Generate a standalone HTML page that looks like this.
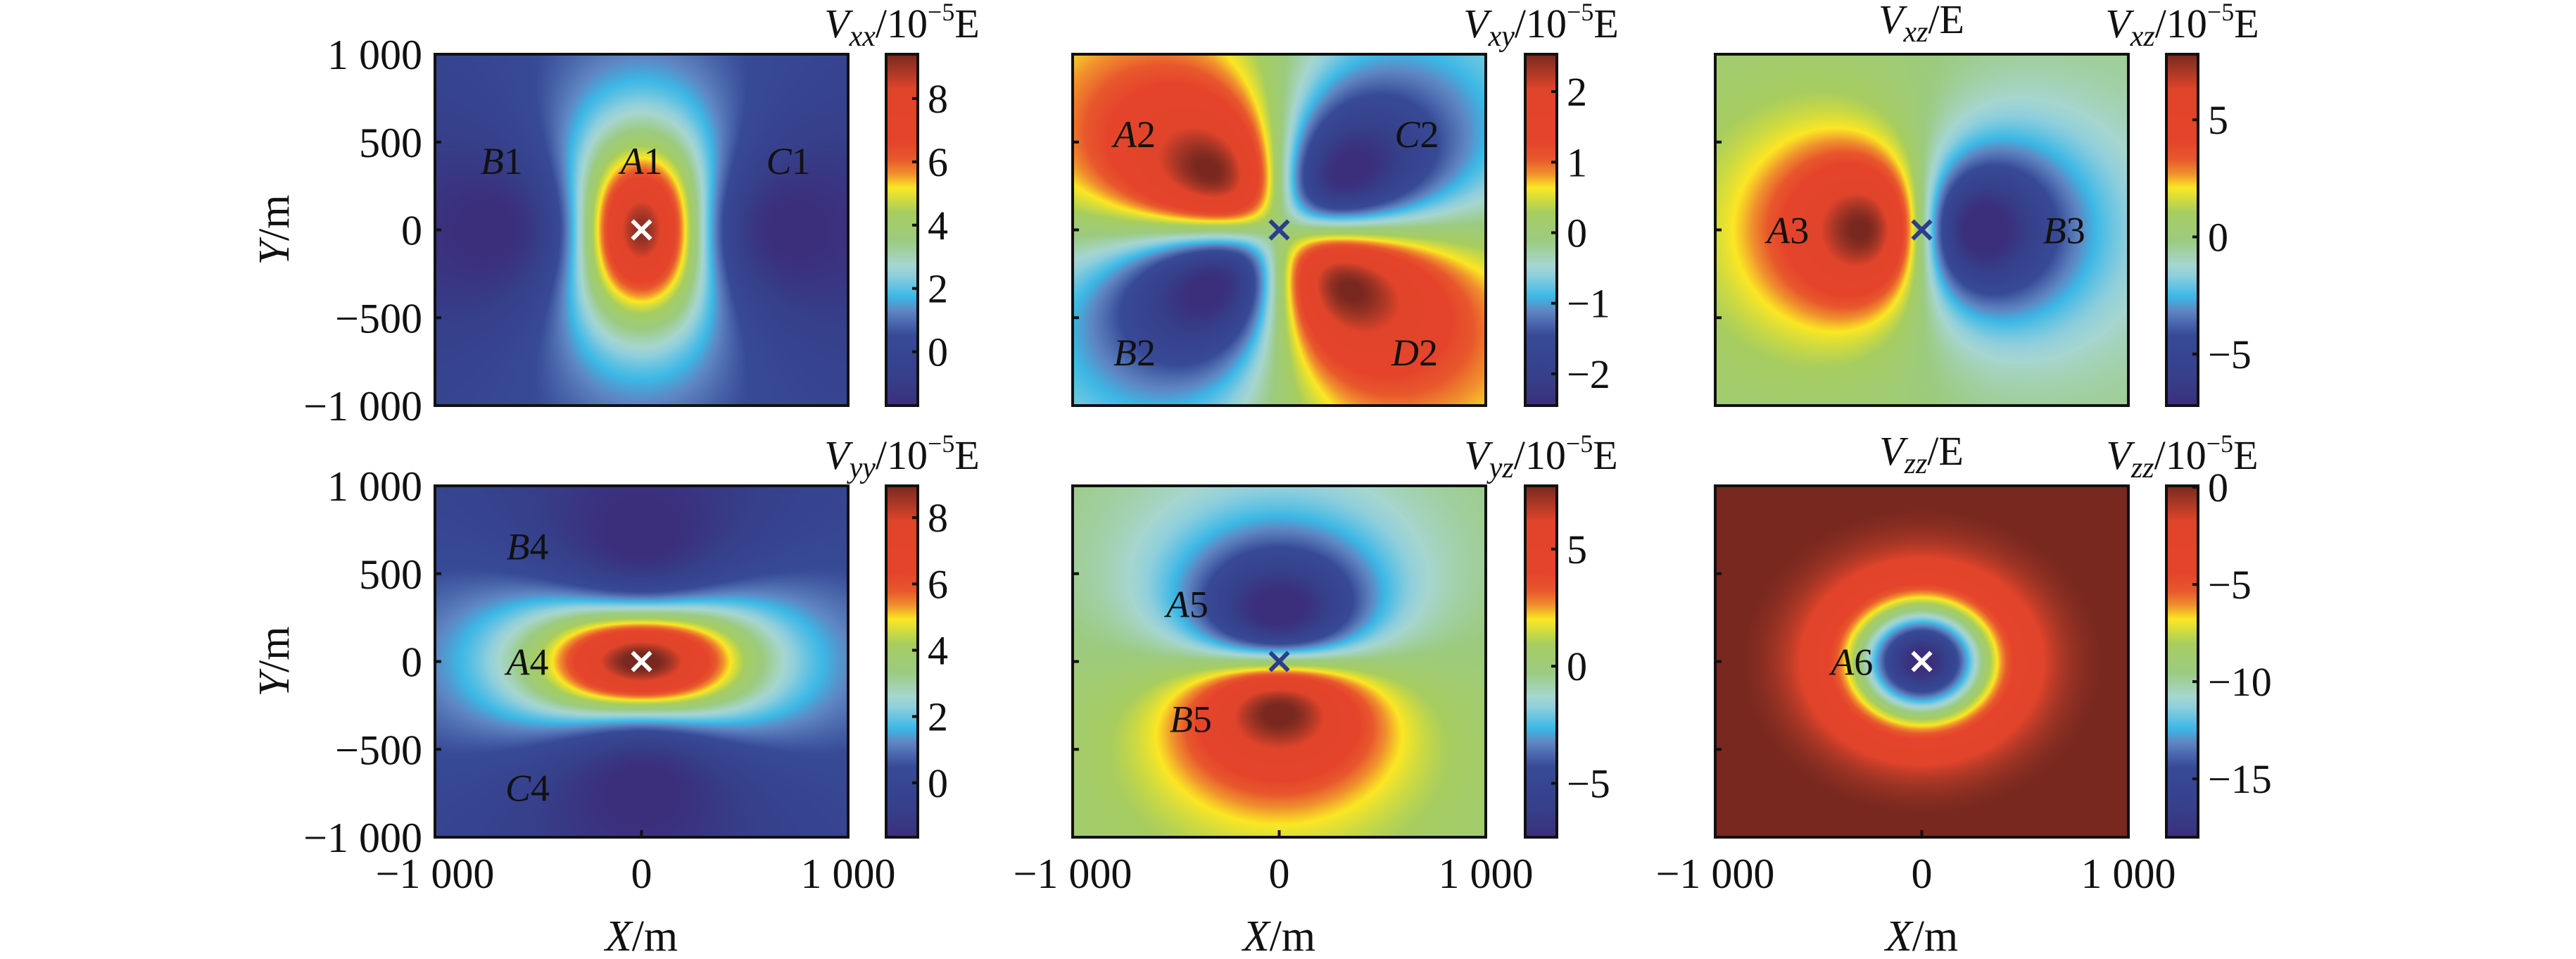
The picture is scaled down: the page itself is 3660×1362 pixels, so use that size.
<!DOCTYPE html>
<html><head><meta charset="utf-8">
<style>
html,body{margin:0;padding:0;background:#fff;}
#wrap{position:relative;width:3660px;height:1362px;overflow:hidden;background:#fff;}
canvas{position:absolute;}
svg{position:absolute;left:0;top:0;}
text{font-family:"Liberation Serif",serif;fill:#111;}
</style></head>
<body>
<div id="wrap">
<svg id="ov" width="3660" height="1362"></svg>
</div>
<script>
// ---- data ----
const panelNames = ['vxx','vxy','vxz','vyy','vyz','vzz'];
const sourceX = [0];
const sourceY = [0];
const sourceDepth = [600];
const sourceAmplitude = [9.2]; // Vxx at epicentre, 1e-5 E
const cbMin = [-1.7,-2.45,-7.2,-1.64,-7.3,-18.0];
const cbMax = [9.4,2.53,7.8,8.96,7.7,0.07];
const cbTicks = [[0,2,4,6,8],[-2,-1,0,1,2],[-5,0,5],[0,2,4,6,8],[-5,0,5],[-15,-10,-5,0]];
const axisTicks = [-1000,-500,0,500,1000];
const axisTickLabels = ['\u22121 000','\u2212500','0','500','1 000'];
const xTickVals = [-1000,0,1000];
const xTickLabels = ['\u22121 000','0','1 000'];
const annotText = [['B','1'],['A','1'],['C','1'],['A','2'],['C','2'],['B','2'],['D','2'],['A','3'],['B','3'],['B','4'],['A','4'],['C','4'],['A','5'],['B','5'],['A','6']];
const annotPanel = [0,0,0,1,1,1,1,2,2,3,3,3,4,4,5];
const annotX = [-677,0,711,-700,666,-700,656,-648,689,-552,-552,-552,-445,-428,-338];
const annotY = [395,395,395,547,547,-695,-695,0,0,657,0,-717,329,-325,0];
const markerWhite = [true,false,false,true,false,true];

// ---- layout ----
const colL = [618,1524,2437], panelW = 587;
const rowT = [77,690], panelH = 499;
const cbL = [1259,2167,3078], cbW = 45;
const stops = [[0,'#3b2f7c'],[0.08,'#363f8a'],[0.2,'#374a96'],[0.27,'#5f86c3'],[0.31,'#3cb8e6'],[0.37,'#8fcfdc'],[0.4,'#a6d6cf'],[0.47,'#9ccb80'],[0.55,'#a7cd60'],[0.58,'#c9d944'],[0.62,'#fbe724'],[0.66,'#f0902e'],[0.7,'#e8582c'],[0.75,'#e5442b'],[0.9,'#e0442a'],[0.96,'#a03525'],[1,'#78281f']];
const stopRGB = stops.map(s=>[s[0],parseInt(s[1].slice(1,3),16),parseInt(s[1].slice(3,5),16),parseInt(s[1].slice(5,7),16)]);
function cmap(t){
  t=Math.max(0,Math.min(1,t));
  for(let i=1;i<stopRGB.length;i++){
    if(t<=stopRGB[i][0]){const a=stopRGB[i-1],b=stopRGB[i];const f=(t-a[0])/(b[0]-a[0]);
      return [a[1]+(b[1]-a[1])*f,a[2]+(b[2]-a[2])*f,a[3]+(b[3]-a[3])*f];}
  }
  const l=stopRGB[stopRGB.length-1];return [l[1],l[2],l[3]];
}
function field(k,x,y){
  const dx=x-sourceX[0], dy=y-sourceY[0], z=sourceDepth[0];
  const R2=dx*dx+dy*dy+z*z, R5=Math.pow(R2,2.5), c=sourceAmplitude[0]*z*z*z;
  switch(k){
    case 0: return c*(R2-3*dx*dx)/R5;
    case 1: return -3*c*dx*dy/R5;
    case 2: return -3*c*dx*z/R5;
    case 3: return c*(R2-3*dy*dy)/R5;
    case 4: return -3*c*dy*z/R5;
    default: return c*(R2-3*z*z)/R5;
  }
}
const NS='http://www.w3.org/2000/svg';
const ov=document.getElementById('ov');
const wrap=document.getElementById('wrap');
function el(tag,attrs,parent){const e=document.createElementNS(NS,tag);for(const k in attrs)e.setAttribute(k,attrs[k]);(parent||ov).appendChild(e);return e;}
function tsp(parent,txt,attrs){const t=document.createElementNS(NS,'tspan');for(const k in attrs)t.setAttribute(k,attrs[k]);t.textContent=txt;parent.appendChild(t);return t;}

// gradient for colorbars
const defs=el('defs',{});
const grad=el('linearGradient',{id:'cbg',x1:0,y1:1,x2:0,y2:0},defs);
stops.forEach(s=>el('stop',{offset:s[0],'stop-color':s[1]},grad));

const subs=['xx','xy','xz','yy','yz','zz'];
for(let k=0;k<6;k++){
  const col=k%3,row=Math.floor(k/3);
  const L=colL[col],T=rowT[row];
  const sx=v=>L+(v+1000)/2000*panelW;
  const sy=v=>T+(1000-v)/2000*panelH;
  // heatmap canvas
  const cv=document.createElement('canvas');
  cv.width=panelW;cv.height=panelH;cv.style.left=L+'px';cv.style.top=T+'px';
  
  
  wrap.insertBefore(cv,ov);
  const ctx=cv.getContext('2d');const img=ctx.createImageData(panelW,panelH);
  for(let j=0;j<panelH;j++){const y=1000-(j+0.5)/panelH*2000;
    for(let i=0;i<panelW;i++){const x=(i+0.5)/panelW*2000-1000;
      const v=field(k,x,y);const c=cmap((v-cbMin[k])/(cbMax[k]-cbMin[k]));
      const p=(j*panelW+i)*4;img.data[p]=c[0];img.data[p+1]=c[1];img.data[p+2]=c[2];img.data[p+3]=255;}}
  ctx.putImageData(img,0,0);
  const g=el('g',{});
  
  
  // frame
  const fr=el('rect',{x:L,y:T,width:panelW,height:panelH,fill:'none',stroke:'#111','stroke-width':4},g);
  
  
  // y ticks
  [-500,0,500].forEach(v=>{el('line',{x1:L,x2:L+9,y1:sy(v),y2:sy(v),stroke:'#111','stroke-width':4},g);});
  if(row===1){el('line',{x1:sx(0),x2:sx(0),y1:T+panelH,y2:T+panelH-10,stroke:'#111','stroke-width':4},g);}
  if(col===0){
    axisTicks.forEach((v,i)=>{const t=el('text',{x:600,y:sy(v)+21,'font-size':60,'text-anchor':'end'},g);t.textContent=axisTickLabels[i];
      
      });
    const yt=el('text',{x:0,y:0,'font-size':62,'text-anchor':'middle',transform:`translate(410,${T+panelH/2}) rotate(-90)`},g);
    tsp(yt,'Y',{'font-style':'italic'});tsp(yt,'/m',{});
    
    
  }
  if(row===1){
    xTickVals.forEach((v,i)=>{const t=el('text',{x:sx(v),y:1261,'font-size':60,'text-anchor':'middle'},g);t.textContent=xTickLabels[i];
      
      });
    const xt=el('text',{x:L+panelW/2,y:1350,'font-size':62,'text-anchor':'middle'},g);
    tsp(xt,'X',{'font-style':'italic'});tsp(xt,'/m',{});
    
    
  }
  // marker
  const mc=markerWhite[k]?'#ffffff':'#2b3d8c';
  const mx=sx(sourceX[0]),my=sy(sourceY[0]);
  const mk=el('path',{d:`M${mx-13} ${my-13}L${mx+13} ${my+13}M${mx-13} ${my+13}L${mx+13} ${my-13}`,stroke:mc,'stroke-width':6,fill:'none'},g);
  
  
  // annotations
  annotText.forEach((a,i)=>{ if(annotPanel[i]!==k)return;
    const t=el('text',{x:sx(annotX[i]),y:sy(annotY[i])+19,'font-size':54,'text-anchor':'middle'},g);
    tsp(t,a[0],{'font-style':'italic'});tsp(t,a[1],{});
    
    
  });
  // colorbar
  const cx=cbL[col];
  const cb=el('rect',{x:cx,y:T,width:cbW,height:panelH,fill:'url(#cbg)',stroke:'#111','stroke-width':4},g);
  
  
  const cy=v=>T+panelH-(v-cbMin[k])/(cbMax[k]-cbMin[k])*panelH;
  cbTicks[k].forEach(v=>{
    el('line',{x1:cx+cbW,x2:cx+cbW-8,y1:cy(v),y2:cy(v),stroke:'#111','stroke-width':4},g);
    const t=el('text',{x:cx+cbW+14,y:cy(v)+20,'font-size':58},g);t.textContent=v<0?'\u2212'+(-v):String(v);
    
    
  });
  // colorbar title
  const ct=el('text',{x:cx+cbW/2,y:T-24,'font-size':58,'text-anchor':'middle'},g);
  tsp(ct,'V',{'font-style':'italic'});tsp(ct,subs[k],{'font-style':'italic','font-size':42,dy:12});
  tsp(ct,'/10',{dy:-12});tsp(ct,'\u22125',{'font-size':36,dy:-24});tsp(ct,'E',{dy:24});
  
  
  if(k===2||k===5){
    const pt=el('text',{x:2730,y:T-30,'font-size':58,'text-anchor':'middle'},g);
    tsp(pt,'V',{'font-style':'italic'});tsp(pt,subs[k],{'font-style':'italic','font-size':42,dy:12});tsp(pt,'/E',{dy:-12});
    
    
  }
}
</script>
</body></html>
